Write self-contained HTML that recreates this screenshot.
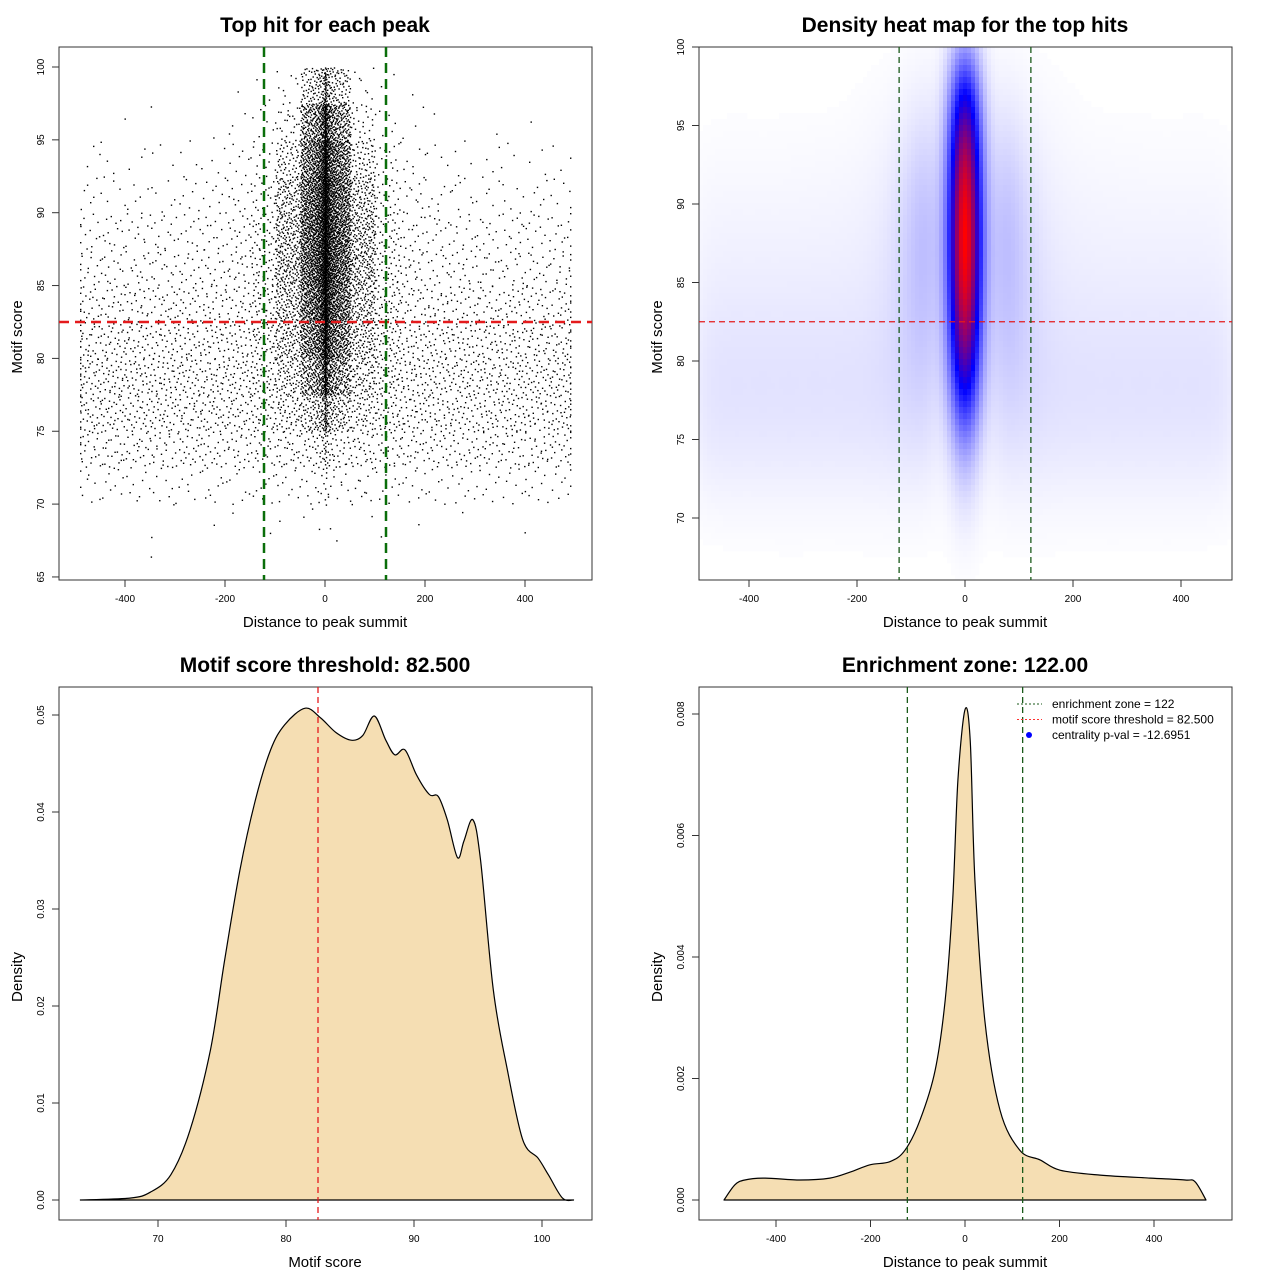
<!DOCTYPE html>
<html><head><meta charset="utf-8">
<style>
html,body{margin:0;padding:0;background:#fff;}
svg{display:block;font-family:"Liberation Sans",Arial,sans-serif;}
</style></head>
<body>
<svg id="chart" width="1280" height="1280" viewBox="0 0 1280 1280" xmlns="http://www.w3.org/2000/svg">
<defs>
<clipPath id="clip2"><rect x="699" y="47" width="533" height="533"/></clipPath>
</defs>
</svg>
<script>
// ---- Panel 1/2 data: binned hit counts (x bins of 50 units, y bands of 2.5 units) ----
const xBinCenters=[-475,-425,-375,-325,-275,-225,-175,-125,-75,-25,25,75,125,175,225,275,325,375,425,475];
const yBandLows=[97.5,95,92.5,90,87.5,85,82.5,80,77.5,75,72.5,70,67.5,65];
const hitCounts=[
[0,0,0,0,0,0,1,2,8,100,100,8,2,1,0,0,0,0,0,0],
[0,1,0,1,0,1,3,6,25,250,250,25,6,3,1,0,1,0,1,0],
[3,3,3,3,4,4,7,14,55,350,350,55,14,7,4,4,3,3,3,3],
[6,6,6,6,7,8,11,22,90,420,420,90,22,11,8,7,6,6,6,6],
[12,12,12,12,12,13,16,32,110,450,450,110,32,16,13,12,12,12,12,12],
[15,15,15,15,16,16,20,36,115,450,450,115,36,20,16,15,15,15,15,15],
[22,22,22,22,22,23,25,40,100,400,400,100,40,25,23,22,22,22,22,22],
[30,30,30,30,30,30,32,45,90,330,330,90,45,32,30,30,30,30,30,30],
[35,35,35,35,35,35,36,45,70,230,230,70,45,36,35,35,35,35,35,35],
[32,32,32,32,32,32,33,38,50,110,110,50,38,33,32,32,32,32,32,32],
[22,22,22,22,22,22,22,24,28,40,40,28,24,22,22,22,22,22,22,22],
[8,8,8,8,8,8,8,9,10,14,14,10,9,8,8,8,8,8,8,8],
[0,0,0,1,0,1,1,1,1,3,3,1,1,1,0,1,0,1,0,0],
[0,0,0,1,0,0,0,0,0,0,0,0,0,0,0,0,0,0,0,0]];
// ---- Panel 3 data: motif score density ----
const scoreX=[63.9,67.8,69.4,71,72.5,74.1,75.2,76.4,77.6,78.8,79.9,81.5,82.7,83.9,85.1,86,86.9,87.8,88.5,89.3,90.2,91.2,91.9,92.6,93.4,93.9,94.6,95.2,96.2,97.3,98.5,99.7,100.5,101.6,102.5];
const scoreDensity=[0,0.0002,0.0008,0.0026,0.0072,0.0155,0.0247,0.034,0.0412,0.0464,0.049,0.0507,0.0497,0.0482,0.0474,0.0479,0.0499,0.0474,0.0459,0.0464,0.0438,0.0418,0.0416,0.0392,0.0353,0.037,0.0392,0.035,0.0216,0.0134,0.0062,0.0043,0.0026,0.0002,0];
// ---- Panel 4 data: distance density ----
const distX=[-510,-487,-466,-423,-349,-286,-243,-201,-159,-127,-95,-63,-42,-26,-15,0,11,21,42,74,116,159,201,286,392,466,487,510];
const distDensity=[0,0.00025,0.00033,0.00036,0.00033,0.00036,0.00046,0.00058,0.00063,0.00082,0.00132,0.00214,0.00329,0.00494,0.00691,0.00807,0.00757,0.00527,0.00296,0.00148,0.00082,0.00066,0.00049,0.00041,0.00036,0.00033,0.0003,0];
const xTicksDist=[-400,-200,0,200,400];
const yTicks1=[65,70,75,80,85,90,95,100];
const yTicks2=[70,75,80,85,90,95,100];
const xTicks3=[70,80,90,100];
const yTicks3=[0,0.01,0.02,0.03,0.04,0.05];
const yTicks4=[0,0.002,0.004,0.006,0.008];
const scoreThreshold=82.5, zone=122;

const NS="http://www.w3.org/2000/svg";
const svg=document.getElementById('chart');
function mk(tag,attrs,parent){const e=document.createElementNS(NS,tag);for(const k in attrs)e.setAttribute(k,attrs[k]);(parent||svg).appendChild(e);return e;}
function txt(s,x,y,size,attrs,parent){const e=mk('text',Object.assign({x:x,y:y,'font-size':size,'text-anchor':'middle',fill:'#000'},attrs||{}),parent);e.textContent=s;return e;}

const sx1=v=>325+v*0.5, sy1=v=>67+(100-v)*14.57;
const sx2=v=>965+v*0.54, sy2=v=>47+(100-v)*15.7;
const ix2=px=>(px-965)/0.54, iy2=py=>100-(py-47)/15.7;
const sx3=v=>286+(v-80)*12.8, sy3=v=>1200-v*9700;
const sx4=v=>965+v*0.4725, sy4=v=>1200-v*60750;

function halton(i,b){let f=1,r=0;while(i>0){f/=b;r+=f*(i%b);i=Math.floor(i/b);}return r;}
function smoothPath(pts){let d='M'+pts[0][0].toFixed(1)+' '+pts[0][1].toFixed(1);
for(let i=0;i<pts.length-1;i++){const p0=pts[Math.max(0,i-1)],p1=pts[i],p2=pts[i+1],p3=pts[Math.min(pts.length-1,i+2)];
const c1=[p1[0]+(p2[0]-p0[0])/6,p1[1]+(p2[1]-p0[1])/6],c2=[p2[0]-(p3[0]-p1[0])/6,p2[1]-(p3[1]-p1[1])/6];
d+=` C${c1[0].toFixed(1)} ${c1[1].toFixed(1)} ${c2[0].toFixed(1)} ${c2[1].toFixed(1)} ${p2[0].toFixed(1)} ${p2[1].toFixed(1)}`;}return d;}

function frame(x,y,name){const r=mk('rect',{x:x,y:y,width:533,height:533,fill:'none',stroke:'#333','stroke-width':1});

}
function xAxis(ticks,fx,yBase,fmt,name){const g=mk('g',{});


ticks.forEach(t=>{const x=fx(t);mk('line',{x1:x,x2:x,y1:yBase,y2:yBase+7,stroke:'#333'},g);txt(fmt(t),x,yBase+22,10,{},g);});
mk('line',{x1:fx(ticks[0]),x2:fx(ticks[ticks.length-1]),y1:yBase,y2:yBase,stroke:'#333'},g);}
function yAxis(ticks,fy,xBase,fmt,name){const g=mk('g',{});


ticks.forEach(t=>{const y=fy(t);mk('line',{x1:xBase,x2:xBase-7,y1:y,y2:y,stroke:'#333'},g);txt(fmt(t),xBase-15,y,10,{transform:`rotate(-90 ${xBase-15} ${y})`},g);});
mk('line',{x1:xBase,x2:xBase,y1:fy(ticks[0]),y2:fy(ticks[ticks.length-1]),stroke:'#333'},g);}
function titles(cx,top,title,xl,yl,px){
let t=txt(title,cx,top,21,{'font-weight':'bold'});


t=txt(xl,cx,top+595,15);


t=txt(yl,px,top+305,15,{transform:`rotate(-90 ${px} ${top+305})`});

}

// ===== Panel 1: scatter =====
const g1=mk('g',{});


let hi=1;
yBandLows.forEach((yl,ri)=>{xBinCenters.forEach((xc,ci)=>{const n=hitCounts[ri][ci];for(let k=0;k<n;k++){
let u=halton(hi,2),w=halton(hi,3);hi++;
let xv=xc-25+u*50; if(ci===9||ci===10){xv=(xc<0?-1:1)*Math.pow(u,1.6)*50;}
xv=Math.max(-490,Math.min(490,xv));
const yv=yl+w*2.5;
const p=mk('rect',{x:sx1(xv).toFixed(1),y:sy1(yv).toFixed(1),width:1.4,height:1.4,fill:'#000'},g1);

}});});
frame(59,47,'scatter-plot-area');
xAxis(xTicksDist,sx1,580,v=>v,'x-axis-scatter');
yAxis(yTicks1,sy1,59,v=>v,'y-axis-scatter');
let l=mk('line',{x1:59,x2:592,y1:sy1(scoreThreshold),y2:sy1(scoreThreshold),stroke:'#e41a1c','stroke-width':2.5,'stroke-dasharray':'10 6'});


[-zone,zone].forEach(z=>{const e=mk('line',{x1:sx1(z),x2:sx1(z),y1:47,y2:580,stroke:'#0a6e0a','stroke-width':2.5,'stroke-dasharray':'10 6'});

});
titles(325,32,'Top hit for each peak','Distance to peak summit','Motif score',22);

// ===== Panel 2: heat map (kernel-smoothed density of hitCounts) =====
function heatColor(t){t=Math.max(0,Math.min(1,t));let r,g,b;if(t<0.5){const s=t/0.5;r=255*(1-s);g=255*(1-s);b=255;}else{const s=(t-0.5)/0.5;r=255*s;g=0;b=255*(1-s);}return `rgb(${r|0},${g|0},${b|0})`;}
function densityAt(xv,yv){let s=0;
yBandLows.forEach((yl,ri)=>{const dy=yv-(yl+1.25);const gy=Math.exp(-dy*dy/(2*2.2*2.2));if(gy<1e-4)return;
xBinCenters.forEach((xc,ci)=>{const c=hitCounts[ri][ci];if(!c)return;
const core=(ci===9||ci===10);const cx=core?(xc<0?-7:7):xc;const sg=core?19:28;
const dx=xv-cx;s+=c*gy*Math.exp(-dx*dx/(2*sg*sg))/sg;});});return s;}
const clipG=mk('g',{'clip-path':'url(#clip2)'});


const cw=4,ch=6,field=[];let maxD=0;
for(let py=47;py<580;py+=ch){for(let px=699;px<1232;px+=cw){const v=densityAt(ix2(px+cw/2),iy2(py+ch/2));field.push([px,py,v]);if(v>maxD)maxD=v;}}
field.forEach(f=>{const t=Math.pow(f[2]/maxD,0.88);if(t<0.004)return;
const cell=mk('rect',{x:f[0],y:f[1],width:cw+0.3,height:ch+0.3,fill:heatColor(t)},clipG);
});
frame(699,47,'heatmap-plot-area');
xAxis(xTicksDist,sx2,580,v=>v,'x-axis-heatmap');
yAxis(yTicks2,sy2,699,v=>v,'y-axis-heatmap');
l=mk('line',{x1:699,x2:1232,y1:sy2(scoreThreshold),y2:sy2(scoreThreshold),stroke:'#e41a1c','stroke-width':1.3,'stroke-dasharray':'6 4'});


[-zone,zone].forEach(z=>{const e=mk('line',{x1:sx2(z),x2:sx2(z),y1:47,y2:580,stroke:'#1a5a1a','stroke-width':1.3,'stroke-dasharray':'6 4'});

});
titles(965,32,'Density heat map for the top hits','Distance to peak summit','Motif score',662);

// ===== Panel 3: score density =====
let d=smoothPath(scoreX.map((v,i)=>[sx3(v),sy3(scoreDensity[i])]));
let a=mk('path',{d:d+' Z',fill:'#f5deb3',stroke:'#000','stroke-width':1.2});


frame(59,687,'score-density-plot-area');
xAxis(xTicks3,sx3,1220,v=>v,'x-axis-score');
yAxis(yTicks3,sy3,59,v=>v.toFixed(2),'y-axis-density');
l=mk('line',{x1:sx3(scoreThreshold),x2:sx3(scoreThreshold),y1:687,y2:1220,stroke:'#e41a1c','stroke-width':1.3,'stroke-dasharray':'6 4'});


titles(325,672,'Motif score threshold: 82.500','Motif score','Density',22);

// ===== Panel 4: distance density =====
d=smoothPath(distX.map((v,i)=>[sx4(v),sy4(distDensity[i])]));
a=mk('path',{d:d+' Z',fill:'#f5deb3',stroke:'#000','stroke-width':1.2,'stroke-linejoin':'round'});


frame(699,687,'distance-density-plot-area');
xAxis(xTicksDist,sx4,1220,v=>v,'x-axis-distance');
yAxis(yTicks4,sy4,699,v=>v.toFixed(3),'y-axis-density');
[-zone,zone].forEach(z=>{const e=mk('line',{x1:sx4(z),x2:sx4(z),y1:687,y2:1220,stroke:'#1a5a1a','stroke-width':1.3,'stroke-dasharray':'6 4'});

});
titles(965,672,'Enrichment zone: 122.00','Distance to peak summit','Density',662);
// legend
const lg=mk('g',{});


const legItems=[['enrichment zone = 122','#1a5a1a','line'],['motif score threshold = 82.500','#ff3030','line'],['centrality p-val = -12.6951','#0000ff','dot']];
legItems.forEach((it,i)=>{const y=704+i*15.5;
if(it[2]==='line')mk('line',{x1:1017,x2:1042,y1:y,y2:y,stroke:it[1],'stroke-dasharray':'2 2'},lg);
else mk('circle',{cx:1029,cy:y,r:3,fill:it[1]},lg);
const t=txt(it[0],1052,y+4,12,{'text-anchor':'start'},lg);

});
</script>
</body></html>
